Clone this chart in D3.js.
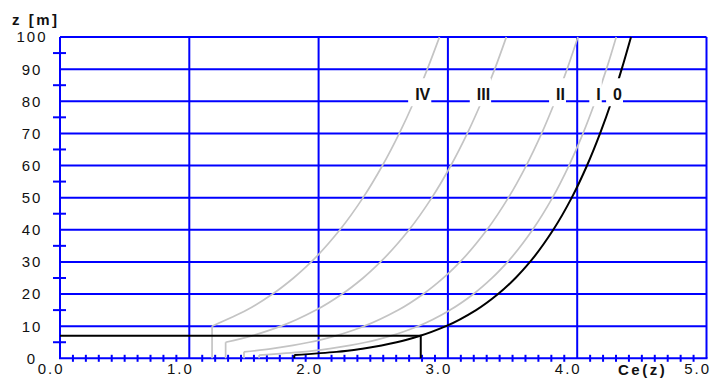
<!DOCTYPE html>
<html>
<head>
<meta charset="utf-8">
<script src="https://cdn.jsdelivr.net/npm/d3@7"></script>
<style>
body { margin: 0; background: #fff; }
svg { display: block; font-family: "Liberation Sans", Arial, sans-serif; }
</style>
</head>
<body>
<div id="container"></div>
<script>
var width = 711, height = 378;

// heights z [m] at which Ce(z) was read for every terrain category
var zValues = [1, 2, 3, 4, 5, 7, 10, 15, 20, 25, 30, 40, 50, 60, 70, 80, 90, 100];
var ce0   = [1.812, 2.138, 2.339, 2.487, 2.604, 2.786, 2.985, 3.218, 3.388, 3.523, 3.635, 3.815, 3.958, 4.076, 4.177, 4.266, 4.344, 4.416];
var ceI   = [1.540, 1.878, 2.088, 2.243, 2.367, 2.558, 2.769, 3.016, 3.198, 3.342, 3.462, 3.655, 3.809, 3.936, 4.045, 4.140, 4.226, 4.302];
var ceII  = [null, 1.423, 1.640, 1.801, 1.929, 2.130, 2.352, 2.616, 2.810, 2.965, 3.094, 3.302, 3.468, 3.606, 3.725, 3.829, 3.922, 4.006];
var ceIII = [null, null, null, null, 1.281, 1.483, 1.709, 1.980, 2.182, 2.344, 2.479, 2.700, 2.876, 3.023, 3.150, 3.262, 3.362, 3.452];
var ceIV  = [null, null, null, null, null, null, 1.176, 1.444, 1.644, 1.806, 1.943, 2.165, 2.344, 2.494, 2.624, 2.739, 2.841, 2.935];

var categories = ["IV", "III", "II", "I", "0"];
var seriesCe = [ceIV, ceIII, ceII, ceI, ce0];
var labelShift = [1, -5, 1, 1, 1.5];
var labelHeight = 80;

// reading line for category 0 at z = 7 m
var refZ = 7, refCe = 2.79;

var xTicks = [0, 1, 2, 3, 4, 5];
var xTickLabels = ["0.0", "1.0", "2.0", "3.0", "4.0", "5.0"];
var yTicks = [0, 10, 20, 30, 40, 50, 60, 70, 80, 90, 100];

var xScale = d3.scaleLinear().domain([0, 5]).range([60, 706.5]);
var yScale = d3.scaleLinear().domain([0, 100]).range([358.3, 37]);

var blue = "#0000ff", grey = "#c4c4c4";

var svg = d3.select("#container").append("svg")
	.attr("width", width)
	.attr("height", height);

// grid
svg.selectAll(".hgrid").data(yTicks.slice(1)).enter()
	.append("line")
	.attr("x1", xScale(0)).attr("x2", xScale(5))
	.attr("y1", function(d){ return yScale(d); })
	.attr("y2", function(d){ return yScale(d); })
	.attr("stroke", blue).attr("stroke-width", 2);
svg.selectAll(".vgrid").data(xTicks).enter()
	.append("line")
	.attr("x1", function(d){ return xScale(d); })
	.attr("x2", function(d){ return xScale(d); })
	.attr("y1", yScale(0)).attr("y2", yScale(100))
	.attr("stroke", blue).attr("stroke-width", 2);
svg.append("line")
	.attr("x1", xScale(0) - 1).attr("x2", xScale(5) + 1)
	.attr("y1", yScale(0)).attr("y2", yScale(0))
	.attr("stroke", blue).attr("stroke-width", 2);

// minor ticks
var xMinor = d3.range(1, 50).filter(function(i){ return i % 10; }).map(function(i){ return i / 10; });
svg.selectAll(".xminor").data(xMinor).enter()
	.append("line")
	.attr("x1", function(d){ return xScale(d); })
	.attr("x2", function(d){ return xScale(d); })
	.attr("y1", yScale(0) - 3.5).attr("y2", yScale(0) + 3.5)
	.attr("stroke", blue).attr("stroke-width", 2);
var yMinor = d3.range(5, 100, 10);
svg.selectAll(".yminor").data(yMinor).enter()
	.append("line")
	.attr("x1", xScale(0) - 7).attr("x2", xScale(0) + 6)
	.attr("y1", function(d){ return yScale(d); })
	.attr("y2", function(d){ return yScale(d); })
	.attr("stroke", blue).attr("stroke-width", 2);

// curves
var line = d3.line()
	.x(function(d){ return xScale(d.ce); })
	.y(function(d){ return yScale(d.z); })
	.curve(d3.curveMonotoneY);

seriesCe.forEach(function(arr, k){
	var pts = [];
	arr.forEach(function(v, i){ if (v != null) pts.push({z: zValues[i], ce: v}); });
	var col = categories[k] === "0" ? "#000" : grey;
	var sw = categories[k] === "0" ? 2 : 1.7;
	svg.append("path")
		.attr("d", line(pts))
		.attr("fill", "none").attr("stroke", col).attr("stroke-width", sw);
	svg.append("path")
		.attr("d", d3.line()([[xScale(pts[0].ce), yScale(0)], [xScale(pts[0].ce), yScale(pts[0].z)]]))
		.attr("fill", "none").attr("stroke", col).attr("stroke-width", sw);
});

// reading lines
svg.append("path")
	.attr("d", d3.line()([[xScale(0), yScale(refZ)], [xScale(refCe), yScale(refZ)], [xScale(refCe), yScale(0)]]))
	.attr("fill", "none").attr("stroke", "#000").attr("stroke-width", 2);

// curve labels at z = 80 m
var yLab = yScale(labelHeight);
categories.forEach(function(name, k){
	var ce80 = seriesCe[k][zValues.indexOf(labelHeight)];
	var x0 = xScale(ce80) + labelShift[k];
	var box = svg.append("rect").attr("fill", "#fff");
	var t = svg.append("text")
		.attr("x", x0).attr("y", yLab - 1.5)
		.attr("font-size", 16).attr("font-weight", "bold")
		.attr("fill", "#111")
		.text(name);
	var w = t.node().getComputedTextLength();
	box.attr("x", x0 - 7).attr("y", yLab - 23).attr("width", w + 8).attr("height", 28);
});

// axis labels
svg.selectAll(".xlab").data(xTicks).enter()
	.append("text")
	.attr("x", function(d){ return xScale(d) + 4.5; })
	.attr("y", 374)
	.attr("text-anchor", "end")
	.attr("font-size", 15).attr("letter-spacing", 2)
	.attr("fill", "#111")
	.text(function(d, i){ return xTickLabels[i]; });
svg.selectAll(".ylab").data(yTicks).enter()
	.append("text")
	.attr("x", 32)
	.attr("y", function(d){ return yScale(d); })
	.attr("dy", "0.36em")
	.attr("text-anchor", "middle")
	.attr("font-size", 15).attr("letter-spacing", 2)
	.attr("fill", "#111")
	.text(function(d){ return d; });

svg.append("text")
	.attr("x", 12).attr("y", 25)
	.attr("font-size", 15).attr("font-weight", "bold").attr("letter-spacing", 2.5)
	.attr("fill", "#111")
	.text("z [m]");
svg.append("text")
	.attr("x", 618).attr("y", 375)
	.attr("font-size", 15).attr("font-weight", "bold").attr("letter-spacing", 2.5)
	.attr("fill", "#111")
	.text("Ce(z)");
</script>
</body>
</html>
